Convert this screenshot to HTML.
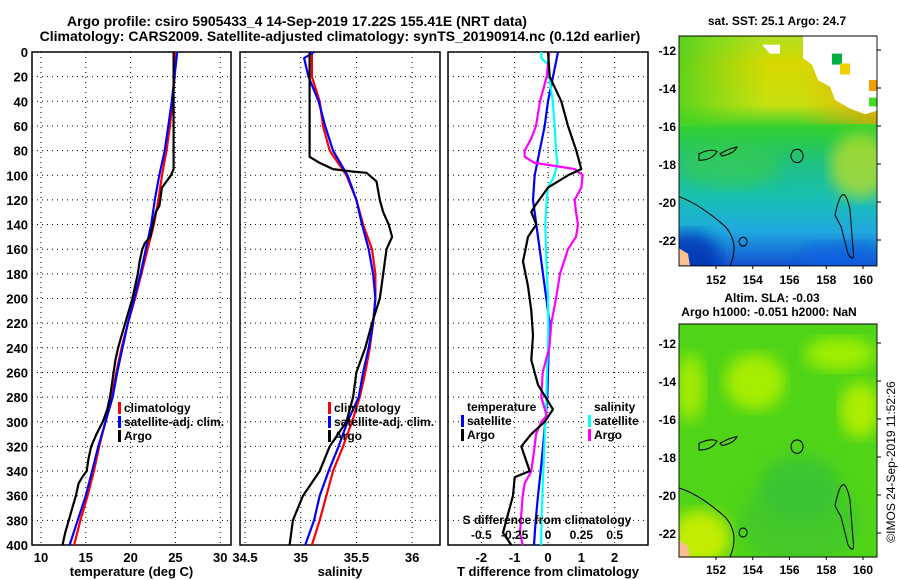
<!DOCTYPE html>
<html><head><meta charset="utf-8">
<style>
html,body{margin:0;padding:0;background:#fff;}
svg{display:block;font-family:"Liberation Sans",sans-serif;font-weight:bold;}
</style></head>
<body>
<svg id="c" width="900" height="580" viewBox="0 0 900 580" xmlns="http://www.w3.org/2000/svg">
<defs>
<linearGradient id="sstg" x1="0" y1="0" x2="0" y2="1">
<stop offset="0" stop-color="#b0e020"/><stop offset="0.12" stop-color="#d8d800"/><stop offset="0.3" stop-color="#c8e010"/>
<stop offset="0.4" stop-color="#30d030"/><stop offset="0.55" stop-color="#20c080"/><stop offset="0.7" stop-color="#18c0b0"/>
<stop offset="0.85" stop-color="#20a8e0"/><stop offset="1" stop-color="#1050d0"/></linearGradient>
<linearGradient id="sstd" x1="0" y1="0" x2="1" y2="0">
<stop offset="0" stop-color="#40d020" stop-opacity="0.8"/><stop offset="0.45" stop-color="#60d820" stop-opacity="0"/>
<stop offset="0.6" stop-color="#f0a000" stop-opacity="0"/><stop offset="1" stop-color="#f0a000" stop-opacity="0.7"/></linearGradient>
<filter id="blur"><feGaussianBlur stdDeviation="7"/></filter>
<clipPath id="m1"><rect x="679" y="32" width="198" height="209"/></clipPath>
<clipPath id="m2"><rect x="679" y="293" width="198" height="209"/></clipPath>
</defs>
<g id="titles">
<text x="297" y="26" text-anchor="middle" font-size="14">Argo profile: csiro 5905433_4 14-Sep-2019 17.22S 155.41E (NRT data)</text>
<text x="340" y="41" text-anchor="middle" font-size="14">Climatology: CARS2009. Satellite-adjusted climatology: synTS_20190914.nc (0.12d earlier)</text>
</g>
<g id="p1"></g>
<g id="p2"></g>
<g id="p3"></g>
<g id="maps">
<g transform="translate(0,0.8) scale(1,1.1)">
<g clip-path="url(#m1)">
<rect x="679" y="32" width="198" height="209" fill="url(#sstg)"/>
<rect x="679" y="32" width="198" height="80" fill="url(#sstd)"/>
<ellipse cx="730" cy="150" rx="50" ry="20" fill="#40d040" opacity="0.5" filter="url(#blur)"/>
<ellipse cx="860" cy="150" rx="30" ry="30" fill="#c8e020" opacity="0.7" filter="url(#blur)"/>
<ellipse cx="690" cy="235" rx="30" ry="25" fill="#0030b0" opacity="0.8" filter="url(#blur)"/>
<ellipse cx="840" cy="235" rx="40" ry="15" fill="#1060e0" opacity="0.7" filter="url(#blur)"/>
<polygon points="803,32 877,32 877,100 865,103 850,98 835,90 830,78 818,72 812,58 803,52" fill="#fff"/>
<polygon points="762,40 780,40 780,48 770,48" fill="#fff"/>
<rect x="832" y="48" width="10" height="10" fill="#00b040"/>
<rect x="840" y="57" width="10" height="10" fill="#f0d000"/>
<rect x="869" y="72" width="8" height="10" fill="#f0a000"/>
<rect x="869" y="88" width="8" height="8" fill="#40e020"/>
<polygon points="679,250 679,225 688,230 690,241" fill="#f8c090"/>
<path d="M679,178 Q700,185 725,205 Q740,220 730,241 M699,139 q12,-5 18,-2 q-5,8 -18,8z M720,139 q10,-5 17,-6 q-3,6 -15,8z M797,135 a6,6 0 1,0 0.1,0z M835,195 q8,-35 15,-5 l3,35 q2,15 -5,5 l-7,-25z M743,215 a4,4 0 1,0 0.1,0z" fill="none" stroke="#000" stroke-width="1"/>
</g>
<rect x="679" y="32" width="198" height="209" fill="none" stroke="#000" stroke-width="0.9"/>
</g>
<g transform="translate(0,-2.7) scale(1,1.115)">
<g clip-path="url(#m2)">
<rect x="679" y="293" width="198" height="209" fill="#50d418"/>
<ellipse cx="755" cy="345" rx="30" ry="25" fill="#b0f000" opacity="0.9" filter="url(#blur)"/>
<ellipse cx="840" cy="320" rx="35" ry="15" fill="#a8f000" opacity="0.9" filter="url(#blur)"/>
<ellipse cx="860" cy="370" rx="20" ry="25" fill="#b8f000" opacity="0.9" filter="url(#blur)"/>
<ellipse cx="690" cy="350" rx="15" ry="30" fill="#a8ec00" opacity="0.9" filter="url(#blur)"/>
<ellipse cx="700" cy="485" rx="30" ry="25" fill="#d0f000" opacity="0.9" filter="url(#blur)"/>
<ellipse cx="800" cy="440" rx="40" ry="30" fill="#30c040" opacity="0.6" filter="url(#blur)"/>
<ellipse cx="800" cy="470" rx="60" ry="40" fill="#38c038" opacity="0.5" filter="url(#blur)"/>
<polygon points="679,510 679,487 688,492 690,502" fill="#f8c090"/>
<path d="M679,440 Q700,446 725,466 Q740,481 730,502 M699,400 q12,-5 18,-2 q-5,8 -18,8z M720,400 q10,-5 17,-6 q-3,6 -15,8z M797,397 a6,6 0 1,0 0.1,0z M835,456 q8,-35 15,-5 l3,35 q2,15 -5,5 l-7,-25z M743,476 a4,4 0 1,0 0.1,0z" fill="none" stroke="#000" stroke-width="1"/>
</g>
<rect x="679" y="293" width="198" height="209" fill="none" stroke="#000" stroke-width="0.9"/>
</g>
<text x="777" y="25" text-anchor="middle" font-size="12">sat. SST: 25.1 Argo: 24.7</text>
<text x="772" y="302" text-anchor="middle" font-size="12">Altim. SLA: -0.03</text>
<text x="769" y="316" text-anchor="middle" font-size="12">Argo h1000: -0.051 h2000: NaN</text>
<text transform="translate(895,462) rotate(-90)" text-anchor="middle" font-size="12" font-weight="normal">©IMOS 24-Sep-2019 11:52:26</text>
<g id="mapticks"></g>
</g>
</svg>
<script>
// ---- data ----
const depthT = [0,20,40,60,80,95,100,105,110,125,130,140,150,155,160,170,180,190,200,210,220,230,240,250,260,270,280,290,300,310,320,330,340,345,350,360,370,380,390,400];
const tempArgo = [24.8,24.8,24.8,24.8,24.8,24.8,24.5,24.0,23.5,23.2,22.8,22.5,22.2,21.6,21.3,21.0,20.8,20.5,20.2,19.8,19.4,19.0,18.6,18.3,18.1,17.9,17.7,17.4,16.9,16.2,15.6,15.3,15.1,14.6,14.2,13.9,13.5,13.1,12.7,12.4];
const depthStd = [0,20,40,60,80,100,120,140,160,180,200,220,240,260,280,300,320,340,360,380,400];
const tempClim = [25.0,24.9,24.7,24.4,24.0,23.5,23.1,22.6,21.9,21.2,20.5,19.7,19.0,18.4,17.9,17.2,16.5,15.9,15.2,14.4,13.7];
const tempSat = [25.2,24.9,24.6,24.2,23.8,23.2,22.7,22.3,21.7,21.1,20.4,19.7,19.1,18.5,18.0,17.2,16.4,15.7,15.0,14.1,13.2];
const depthS = [0,20,40,60,80,85,90,95,97,98,105,120,130,140,150,160,180,200,220,240,260,280,300,320,340,360,380,400];
const salArgo = [35.08,35.08,35.08,35.08,35.08,35.08,35.17,35.29,35.47,35.59,35.68,35.71,35.74,35.79,35.82,35.77,35.74,35.71,35.64,35.58,35.50,35.47,35.41,35.26,35.17,35.02,34.93,34.90];
const salClim = [35.10,35.10,35.17,35.20,35.26,35.41,35.50,35.56,35.64,35.67,35.67,35.65,35.62,35.58,35.53,35.46,35.38,35.29,35.23,35.17,35.10];
const depthSat2 = [0,5,20,40,60,80,100,120,140,160,180,200,220,240,260,280,300,320,340,360,380,400];
const salSat = [35.12,35.03,35.07,35.16,35.22,35.29,35.42,35.50,35.55,35.61,35.65,35.67,35.65,35.61,35.56,35.52,35.42,35.34,35.25,35.17,35.12,35.04];
const depthDT = [0,20,40,60,80,95,100,110,125,130,140,150,170,190,210,230,250,270,290,300,310,320,340,345,360,375,390,400];
const dTArgo = [0,0.05,0.4,0.6,0.85,1.0,0.6,0,-0.4,-0.5,-0.35,-0.6,-0.75,-0.6,-0.5,-0.45,-0.5,-0.3,0.15,-0.1,-0.5,-0.8,-0.55,-1.0,-1.05,-1.2,-1.35,-1.1];
const dTSat = [0.3,0.15,0,-0.1,-0.25,-0.4,-0.45,-0.35,-0.25,-0.15,-0.05,0.05,0.02,0,-0.02,-0.08,-0.15,-0.22,-0.3,-0.37,-0.42];
const depthDS = [0,5,10,20,40,60,80,90,100,110,120,140,160,180,200,220,240,260,280,300,320,340,360,380,400];
const dSSat = [-0.05,-0.05,0,0.01,0.035,0.05,0.06,0.07,0.05,0,-0.01,-0.02,-0.015,-0.008,0,0.003,0,-0.008,-0.012,-0.02,-0.028,-0.035,-0.042,-0.048,-0.052];
const depthDSA = [0,20,40,60,70,80,85,90,92,95,100,110,120,130,140,150,160,180,200,220,240,260,280,295,300,310,320,340,350,360,375,390,400];
const dSArgo = [0.01,-0.01,-0.06,-0.09,-0.125,-0.175,-0.175,-0.10,0.025,0.20,0.26,0.25,0.20,0.21,0.225,0.21,0.15,0.09,0.06,0.025,0.01,-0.04,-0.05,-0.01,-0.05,-0.09,-0.10,-0.125,-0.175,-0.19,-0.2,-0.21,-0.19];
const depthTicks = [0,20,40,60,80,100,120,140,160,180,200,220,240,260,280,300,320,340,360,380,400];
const tempTicks = [10,15,20,25,30];
const salTicks = [34.5,35,35.5,36];
const dTTicks = [-2,-1,0,1,2];
const sTickLabels = ['-0.5','-0.25','0','0.25','0.5'];
const sTicks = [-0.5,-0.25,0,0.25,0.5];
const latTicks = [-12,-14,-16,-18,-20,-22];
const lonTicks = [152,154,156,158,160];

const NS='http://www.w3.org/2000/svg';
const Y0=52, Y1=545;
const yD = d => Y0 + (d/400)*(Y1-Y0);
function mk(parent,tag,attrs,txt){const e=document.createElementNS(NS,tag);for(const k in attrs)e.setAttribute(k,attrs[k]);if(txt!==undefined)e.textContent=txt;parent.appendChild(e);return e;}

function panel(g,L,R,xmin,xmax,ticks,labels,title,showDepth){
  const xs=v=>L+(v-xmin)/(xmax-xmin)*(R-L);
  depthTicks.forEach(d=>{
    const l=mk(g,'line',{x1:L,x2:R,y1:yD(d),y2:yD(d),stroke:'#000','stroke-dasharray':'1,4','stroke-width':1});
    
    
    if(showDepth){const t=mk(g,'text',{x:L-4,y:yD(d)+5,'text-anchor':'end','font-size':13},String(d));
      
      }
  });
  ticks.forEach((v,i)=>{
    const l=mk(g,'line',{x1:xs(v),x2:xs(v),y1:Y0,y2:Y1,stroke:'#000','stroke-dasharray':'1,4','stroke-width':1});
    
    
    const t=mk(g,'text',{x:xs(v),y:Y1+17,'text-anchor':'middle','font-size':13},labels[i]);
    
    
  });
  const r=mk(g,'rect',{x:L,y:Y0,width:R-L,height:Y1-Y0,fill:'none',stroke:'#000','stroke-width':1.5});
  
  
  const t=mk(g,'text',{x:(L+R)/2,y:Y1+31,'text-anchor':'middle','font-size':13},title);
  
  
  return xs;
}
function line(g,xs,vals,depths,color,name){
  const d=vals.map((v,i)=>(i?'L':'M')+xs(v).toFixed(1)+','+yD(depths[i]).toFixed(1)).join(' ');
  const p=mk(g,'path',{d:d,fill:'none',stroke:color,'stroke-width':2.2,'stroke-linejoin':'round'});
  
  
}
function legend(g,x,y,items){
  items.forEach((it,i)=>{
    if(it[0]){const m=mk(g,'rect',{x:x,y:y+i*14-10,width:3,height:12,fill:it[0]});
      
      }
    const t=mk(g,'text',{x:x+6,y:y+i*14,'font-size':12},it[1]);
    
    
  });
}
const p1=document.getElementById('p1');
const xs1=panel(p1,32,231,9,31.2,tempTicks,tempTicks.map(String),'temperature (deg C)',true);
line(p1,xs1,tempClim,depthStd,'#f00','temp-climatology-line');
line(p1,xs1,tempSat,depthStd,'#00f','temp-satellite-line');
line(p1,xs1,tempArgo,depthT,'#000','temp-argo-line');
legend(p1,118,412,[['#f00','climatology'],['#00f','satellite-adj. clim.'],['#000','Argo']]);

const p2=document.getElementById('p2');
const xs2=panel(p2,240,440,34.455,36.25,salTicks,salTicks.map(String),'salinity',false);
line(p2,xs2,salClim,depthStd,'#f00','sal-climatology-line');
line(p2,xs2,salSat,depthSat2,'#00f','sal-satellite-line');
line(p2,xs2,salArgo,depthS,'#000','sal-argo-line');
legend(p2,328,412,[['#f00','climatology'],['#00f','satellite-adj. clim.'],['#000','Argo']]);

const p3=document.getElementById('p3');
const xs3=panel(p3,448,648,-3,3,dTTicks,dTTicks.map(String),'T difference from climatology',false);
const xs3s=v=>xs3(v*4);
line(p3,xs3,dTSat,depthStd,'#00f','dT-satellite-line');
line(p3,xs3s,dSSat,depthDS,'#0ff','dS-satellite-line');
line(p3,xs3s,dSArgo,depthDSA,'#f0f','dS-argo-line');
line(p3,xs3,dTArgo,depthDT,'#000','dT-argo-line');
legend(p3,461,411,[[null,'temperature'],['#00f','satellite'],['#000','Argo']]);
legend(p3,588,411,[[null,'salinity'],['#0ff','satellite'],['#f0f','Argo']]);
const st=mk(p3,'text',{x:547,y:524,'text-anchor':'middle','font-size':12},'S difference from climatology');


sTicks.forEach((v,i)=>{const t=mk(p3,'text',{x:xs3s(v),y:539,'text-anchor':'middle','font-size':12},sTickLabels[i]);
  
  });

const mt=document.getElementById('mapticks');
[[50,266,284],[343,557,574]].forEach(([lat12,bot,lab])=>{
  latTicks.forEach(v=>{const y=lat12+(-12-v)*19;
    const t=mk(mt,'text',{x:676,y:y+5,'text-anchor':'end','font-size':12},String(v));
    
    
    mk(mt,'line',{x1:877,x2:881,y1:y,y2:y,stroke:'#000'});});
  lonTicks.forEach(v=>{const x=716+(v-152)/8*(863-716);
    const t=mk(mt,'text',{x:x,y:lab,'text-anchor':'middle','font-size':12},String(v));
    
    
    mk(mt,'line',{x1:x,x2:x,y1:bot,y2:bot+3,stroke:'#000'});});
});
</script>
</body></html>
